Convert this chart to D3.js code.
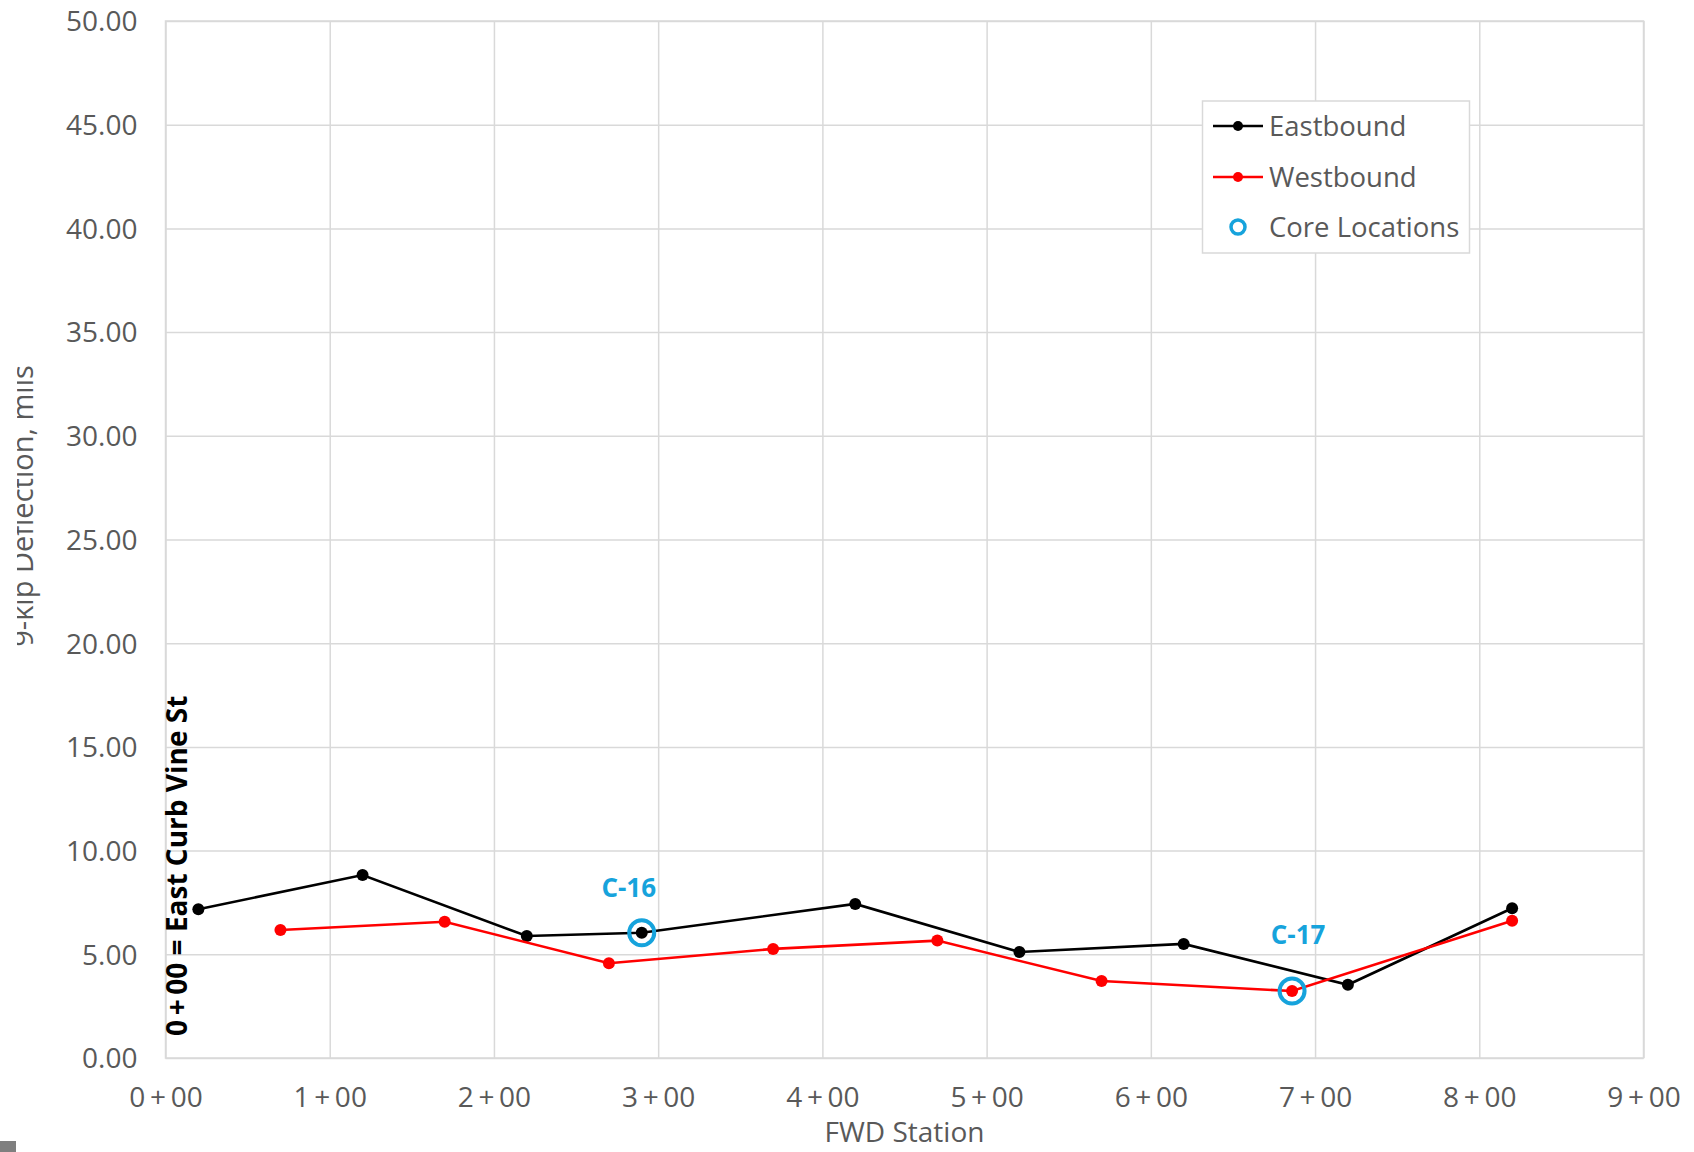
<!DOCTYPE html>
<html>
<head>
<meta charset="utf-8">
<script src="https://cdn.jsdelivr.net/npm/d3@7"></script>
<style>
  html, body { margin: 0; padding: 0; background: #ffffff; }
  svg { display: block; font-family: "Open Sans", "Noto Sans", sans-serif; }
</style>
</head>
<body>
<svg id="chart" width="1694" height="1152"></svg>
<script>
// FWD stations in feet; deflections in mils
const eastStations = [20, 120, 220, 290, 420, 520, 620, 720, 820];
const eastDeflection = [7.17, 8.82, 5.88, 6.04, 7.43, 5.11, 5.50, 3.53, 7.22];

const westStations = [70, 170, 270, 370, 470, 570, 686, 820];
const westDeflection = [6.17, 6.57, 4.57, 5.26, 5.66, 3.71, 3.23, 6.62];

const coreStations = [290, 686];
const coreDeflection = [6.04, 3.23];
const coreLabels = ["C-16", "C-17"];

const xTickValues = [0, 100, 200, 300, 400, 500, 600, 700, 800, 900];
const yTickValues = [0, 5, 10, 15, 20, 25, 30, 35, 40, 45, 50];

const legendLabels = ["Eastbound", "Westbound", "Core Locations"];

const svg = d3.select("#chart");
const W = 1694, H = 1152;
const plot = { left: 165.5, right: 1643.5, top: 21, bottom: 1058 };

svg.append("rect").attr("width", W).attr("height", H).attr("fill", "#ffffff");

const defs = svg.append("defs");
defs.append("clipPath").attr("id", "page-clip")
  .append("rect").attr("x", 17).attr("y", 0).attr("width", W - 17).attr("height", H);

const x = d3.scaleLinear().domain([0, 900]).range([plot.left, plot.right]);
const y = d3.scaleLinear().domain([0, 50]).range([plot.bottom, plot.top]);

const gridColor = "#d9d9d9";
const textGray = "#595959";
const coreBlue = "#16a3dc";
const thin = "\u2009";

// gridlines
svg.append("g")
  .attr("transform", `translate(0,${plot.bottom})`)
  .call(d3.axisBottom(x).tickValues(xTickValues).tickSize(-(plot.bottom - plot.top)).tickFormat(""))
  .call(g => g.select(".domain").remove())
  .call(g => g.selectAll("line").attr("stroke", gridColor).attr("stroke-width", 1.5));

svg.append("g")
  .attr("transform", `translate(${plot.left},0)`)
  .call(d3.axisLeft(y).tickValues(yTickValues).tickSize(-(plot.right - plot.left)).tickFormat(""))
  .call(g => g.select(".domain").remove())
  .call(g => g.selectAll("line").attr("stroke", gridColor).attr("stroke-width", 1.5));

// plot frame
svg.append("rect")
  .attr("x", plot.left).attr("y", plot.top)
  .attr("width", plot.right - plot.left).attr("height", plot.bottom - plot.top)
  .attr("fill", "none").attr("stroke", gridColor).attr("stroke-width", 1.5);

// tick labels
const stationFormat = d => Math.floor(d / 100) + thin + "+" + thin + String(d % 100).padStart(2, "0");

svg.append("g")
  .attr("transform", `translate(0,${plot.bottom})`)
  .call(d3.axisBottom(x).tickValues(xTickValues).tickSize(0).tickFormat(stationFormat))
  .call(g => g.select(".domain").remove())
  .call(g => g.selectAll("text")
    .attr("fill", textGray).attr("font-size", 28)
    .attr("font-family", "'Open Sans', 'Noto Sans', sans-serif")
    .attr("dy", 0).attr("y", 49));

svg.append("g")
  .attr("transform", `translate(${plot.left},0)`)
  .call(d3.axisLeft(y).tickValues(yTickValues).tickSize(0).tickPadding(28).tickFormat(d3.format(".2f")))
  .call(g => g.select(".domain").remove())
  .call(g => g.selectAll("text")
    .attr("fill", textGray).attr("font-size", 28)
    .attr("font-family", "'Open Sans', 'Noto Sans', sans-serif")
    .attr("dy", "0.35em"));

// axis titles
svg.append("text")
  .attr("x", (plot.left + plot.right) / 2).attr("y", 1142)
  .attr("text-anchor", "middle").attr("fill", textGray).attr("font-size", 28)
  .text("FWD Station");

svg.append("g").attr("clip-path", "url(#page-clip)")
  .append("text")
  .attr("transform", "translate(33,506) rotate(-90)")
  .attr("text-anchor", "middle").attr("fill", textGray).attr("font-size", 29)
  .text("9-kip Deflection, mils");

// reference note along the 0+00 line
svg.append("text")
  .attr("transform", "translate(187,1036) rotate(-90)")
  .attr("text-anchor", "start").attr("fill", "#000000").attr("font-size", 28)
  .attr("font-weight", "bold")
  .text("0" + thin + "+" + thin + "00 = East Curb Vine St");

// series
const eastData = eastStations.map((s, i) => [s, eastDeflection[i]]);
const westData = westStations.map((s, i) => [s, westDeflection[i]]);
const line = d3.line().x(d => x(d[0])).y(d => y(d[1]));

svg.append("path").datum(eastData).attr("d", line)
  .attr("fill", "none").attr("stroke", "#000000").attr("stroke-width", 2.6);
svg.append("g").selectAll("circle").data(eastData).join("circle")
  .attr("cx", d => x(d[0])).attr("cy", d => y(d[1])).attr("r", 6).attr("fill", "#000000");

svg.append("path").datum(westData).attr("d", line)
  .attr("fill", "none").attr("stroke", "#ff0000").attr("stroke-width", 2.6);
svg.append("g").selectAll("circle").data(westData).join("circle")
  .attr("cx", d => x(d[0])).attr("cy", d => y(d[1])).attr("r", 6).attr("fill", "#ff0000");

// core locations
const coreData = coreStations.map((s, i) => ({ s, v: coreDeflection[i], label: coreLabels[i] }));
const labelOffset = [[-13, -36], [6, -47]];
svg.append("g").selectAll("circle").data(coreData).join("circle")
  .attr("cx", d => x(d.s)).attr("cy", d => y(d.v)).attr("r", 12.5)
  .attr("fill", "none").attr("stroke", coreBlue).attr("stroke-width", 4);
svg.append("g").selectAll("text").data(coreData).join("text")
  .attr("x", (d, i) => x(d.s) + labelOffset[i][0])
  .attr("y", (d, i) => y(d.v) + labelOffset[i][1])
  .attr("text-anchor", "middle").attr("fill", coreBlue)
  .attr("font-size", 26).attr("font-weight", "bold")
  .text(d => d.label);

// legend
const legend = svg.append("g");
legend.append("rect")
  .attr("x", 1202.5).attr("y", 101).attr("width", 267).attr("height", 152)
  .attr("fill", "#ffffff").attr("stroke", gridColor).attr("stroke-width", 1.5);
const rowY = [126, 177, 227];
const legendColors = ["#000000", "#ff0000"];
legendLabels.forEach((lab, i) => {
  if (i < 2) {
    legend.append("line")
      .attr("x1", 1213).attr("x2", 1263).attr("y1", rowY[i]).attr("y2", rowY[i])
      .attr("stroke", legendColors[i]).attr("stroke-width", 2.6);
    legend.append("circle").attr("cx", 1238).attr("cy", rowY[i]).attr("r", 5).attr("fill", legendColors[i]);
  } else {
    legend.append("circle").attr("cx", 1238).attr("cy", rowY[i]).attr("r", 7)
      .attr("fill", "none").attr("stroke", coreBlue).attr("stroke-width", 3.5);
  }
  legend.append("text")
    .attr("x", 1269).attr("y", rowY[i]).attr("dy", "0.35em")
    .attr("fill", textGray).attr("font-size", 27.5)
    .text(lab);
});

// small marker in the lower-left corner
svg.append("rect").attr("x", 0).attr("y", 1141).attr("width", 16).attr("height", 11).attr("fill", "#7f7f7f");
</script>
</body>
</html>
